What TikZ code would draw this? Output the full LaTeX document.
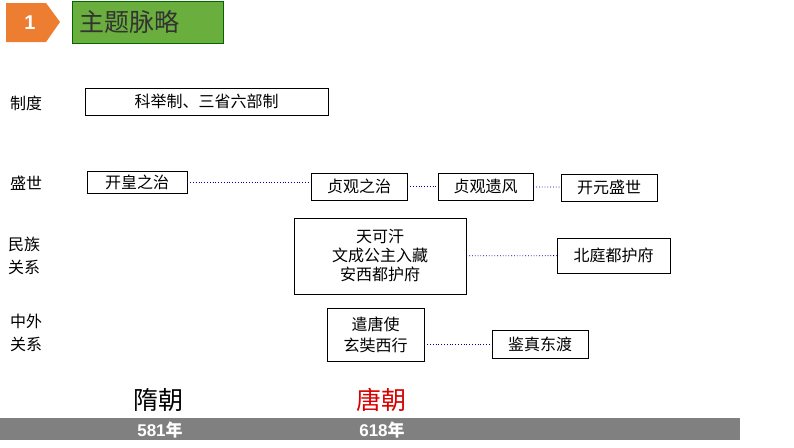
\documentclass[tikz,border=0pt]{standalone}
\usepackage{fontspec}
\setmainfont{Noto Sans CJK SC}
\newfontfamily\lib{Liberation Sans}
\definecolor{hdgreen}{HTML}{6AAE3E}
\definecolor{hdorange}{HTML}{ED7D31}
\begin{document}
\begin{tikzpicture}[x=1pt,y=-1pt,
  bx/.style={draw=black,thick,fill=white,inner sep=0,font=\fontsize{16}{19}\selectfont,align=center},
  lb/.style={font=\fontsize{16}{23}\selectfont,align=center,anchor=west,inner sep=0},
  dl/.style={draw=blue!60!black,dotted,thick}]
\useasboundingbox (0,0) rectangle (794,447);
\fill[hdorange] (6,3) -- (46,3) -- (60,22) -- (46,42) -- (6,42) -- cycle;
\node[text=white,font=\lib\bfseries\fontsize{20}{22}\selectfont] (n1) at (30,23) {1};
\fill[hdgreen,draw=green!40!black] (72,1) rectangle (223,43);
\node[anchor=west,font=\fontsize{25}{28}\selectfont,text=black!80] (t) at (76,22) {主题脉略};
\node[lb] (l1) at (10,103) {制度};
\node[lb] (l2) at (10,183) {盛世};
\node[lb] (l3) at (8,256) {民族\\关系};
\node[lb] (l4) at (10,333) {中外\\关系};
\node[bx,minimum width=243,minimum height=27] (a) at (206.5,101.5) {科举制、三省六部制};
\node[bx,minimum width=100,minimum height=22] (b1) at (137,182) {开皇之治};
\node[bx,minimum width=96,minimum height=27] (b2) at (359,186.5) {贞观之治};
\node[bx,minimum width=95,minimum height=27] (b3) at (485.5,186.5) {贞观遗风};
\node[bx,minimum width=96,minimum height=27] (b4) at (609,187.5) {开元盛世};
\node[bx,minimum width=172,minimum height=76,font=\fontsize{16}{19}\selectfont] (c1) at (380,256) {天可汗\\文成公主入藏\\安西都护府};
\node[bx,minimum width=113,minimum height=35] (c2) at (613.5,255.5) {北庭都护府};
\node[bx,minimum width=97,minimum height=53,font=\fontsize{16}{21}\selectfont] (d1) at (375.5,334.5) {遣唐使\\玄奘西行};
\node[bx,minimum width=96,minimum height=28] (d2) at (540,344) {鉴真东渡};
\draw[dl] (b1.east) -- (b2.west|-b1.east);
\draw[dl] (b2) -- (b3);
\draw[dl] (b3) -- (b4);
\draw[dl] (c1) -- (c2);
\draw[dl] (d1.east|-d2) -- (d2);
\node[font=\fontsize{25}{28}\selectfont] (s) at (158,400) {隋朝};
\node[font=\fontsize{25}{28}\selectfont,text=red!85!black] (tg) at (381,400) {唐朝};
\fill[black!50] (0,418) rectangle (740,440);
\node[text=white,font=\bfseries\fontsize{17}{18}\selectfont] (y1) at (160,430) {{\lib 581}年};
\node[text=white,font=\bfseries\fontsize{17}{18}\selectfont] (y2) at (382,430) {{\lib 618}年};
\end{tikzpicture}
\end{document}
